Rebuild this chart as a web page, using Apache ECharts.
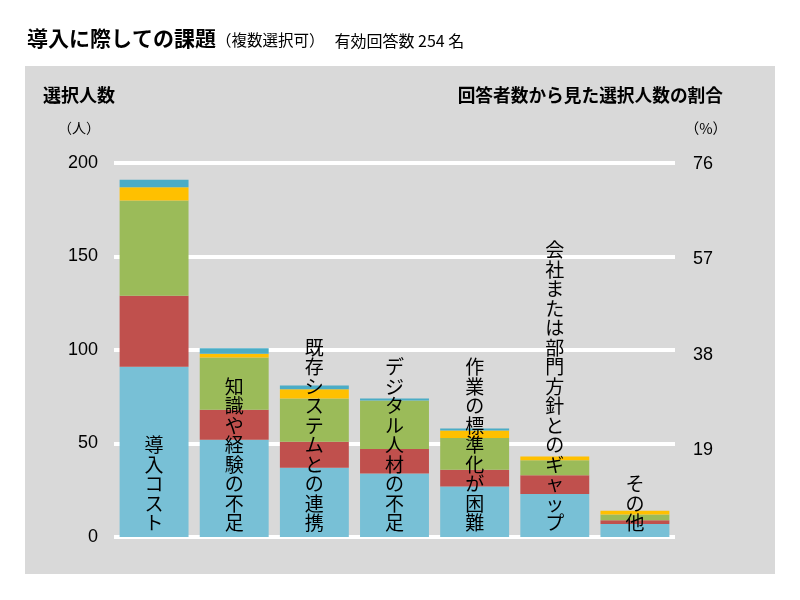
<!DOCTYPE html>
<html>
<head>
<meta charset="utf-8">
<script src="https://cdn.jsdelivr.net/npm/echarts@6/dist/echarts.min.js"></script>
<style>html,body{margin:0;padding:0;background:#fff}#c{width:800px;height:600px}</style>
</head>
<body>
<div id="c"></div>
<script>
const categories = ['導入コスト','知識や経験の不足','既存システムとの連携','デジタル人材の不足','作業の標準化が困難','会社または部門方針とのギャップ','その他'];
const seriesBlue   = [91, 52, 37, 34, 27, 23, 7];
const seriesRed    = [38, 16, 14, 13, 9, 10, 2];
const seriesGreen  = [51, 28, 23, 26, 17, 8, 3];
const seriesYellow = [7, 2, 5, 0, 4, 2, 2];
const seriesCyan   = [4, 3, 2, 1, 1, 0, 0];
const leftAxis = { min: 0, max: 200, interval: 50 };
const rightTicks = [19, 38, 57, 76];
const rightAxis = { min: 1.7, max: 76.2 };

const FONT = '"Noto Sans CJK JP", "Noto Sans", sans-serif';
const NUMFONT = '"Liberation Sans", Arial, sans-serif';
const chart = echarts.init(document.getElementById('c'), null, { renderer: 'canvas' });

function bar(name, data, color) {
  return { name, type: 'bar', stack: 'total', data, barCategoryGap: '14%',
    itemStyle: { color }, emphasis: { disabled: true } };
}

chart.setOption({
  animation: false,
  backgroundColor: '#ffffff',
  textStyle: { fontFamily: FONT },
  graphic: [{ type: 'rect', z: -100, silent: true,
    shape: { x: 25, y: 66, width: 750, height: 508 },
    style: { fill: '#d9d9d9' } }],
  title: [
    { left: 27, top: 28, padding: 0,
      text: '{a|導入に際しての課題}{b|（複数選択可）}{c|有効回答数 254 名}',
      textStyle: { rich: {
        a: { fontSize: 21, fontWeight: 'bold', color: '#000', fontFamily: FONT },
        b: { fontSize: 15.5, fontWeight: 'normal', color: '#000', fontFamily: FONT, padding: [4, 0, 0, 0] },
        c: { fontSize: 16, fontWeight: 'normal', color: '#000', fontFamily: FONT, padding: [4, 0, 0, 10] } } } },
    { left: 43, top: 86, padding: 0, text: '選択人数',
      textStyle: { fontSize: 18, fontWeight: 'bold', color: '#000', fontFamily: FONT } },
    { left: 58, top: 121, padding: 0, text: '（人）',
      textStyle: { fontSize: 14, fontWeight: 'normal', color: '#000', fontFamily: FONT } },
    { right: 77, top: 86, padding: 0, text: '回答者数から見た選択人数の割合',
      textStyle: { fontSize: 17.7, fontWeight: 'bold', color: '#000', fontFamily: FONT } },
    { right: 73, top: 121, padding: 0, text: '（%）',
      textStyle: { fontSize: 14.5, fontWeight: 'normal', color: '#000', fontFamily: FONT } }
  ],
  grid: { left: 114, right: 125, top: 163, bottom: 63 },
  xAxis: {
    type: 'category', data: categories,
    axisLine: { show: false }, axisTick: { show: false },
    axisLabel: { inside: true, interval: 0, margin: 4, color: '#000',
      fontSize: 19, lineHeight: 19.5, fontFamily: FONT,
      formatter: v => v.split('').join('\n') },
    z: 10
  },
  yAxis: [
    { type: 'value', min: leftAxis.min, max: leftAxis.max, interval: leftAxis.interval,
      axisLine: { show: false }, axisTick: { show: false },
      axisLabel: { margin: 16, fontSize: 18, color: '#000', fontFamily: NUMFONT },
      splitLine: { show: true, lineStyle: { color: '#ffffff', width: 4 } } },
    { type: 'value', min: rightAxis.min, max: rightAxis.max,
      position: 'right',
      axisLine: { show: false }, axisTick: { show: false }, splitLine: { show: false },
      axisLabel: { margin: 18, fontSize: 18, color: '#000', fontFamily: NUMFONT,
        customValues: rightTicks } }
  ],
  series: [
    bar('系列1', seriesBlue, '#78c0d6'),
    bar('系列2', seriesRed, '#c0504d'),
    bar('系列3', seriesGreen, '#9bbb59'),
    bar('系列4', seriesYellow, '#ffc000'),
    bar('系列5', seriesCyan, '#4bacc6')
  ]
});
</script>
</body>
</html>
